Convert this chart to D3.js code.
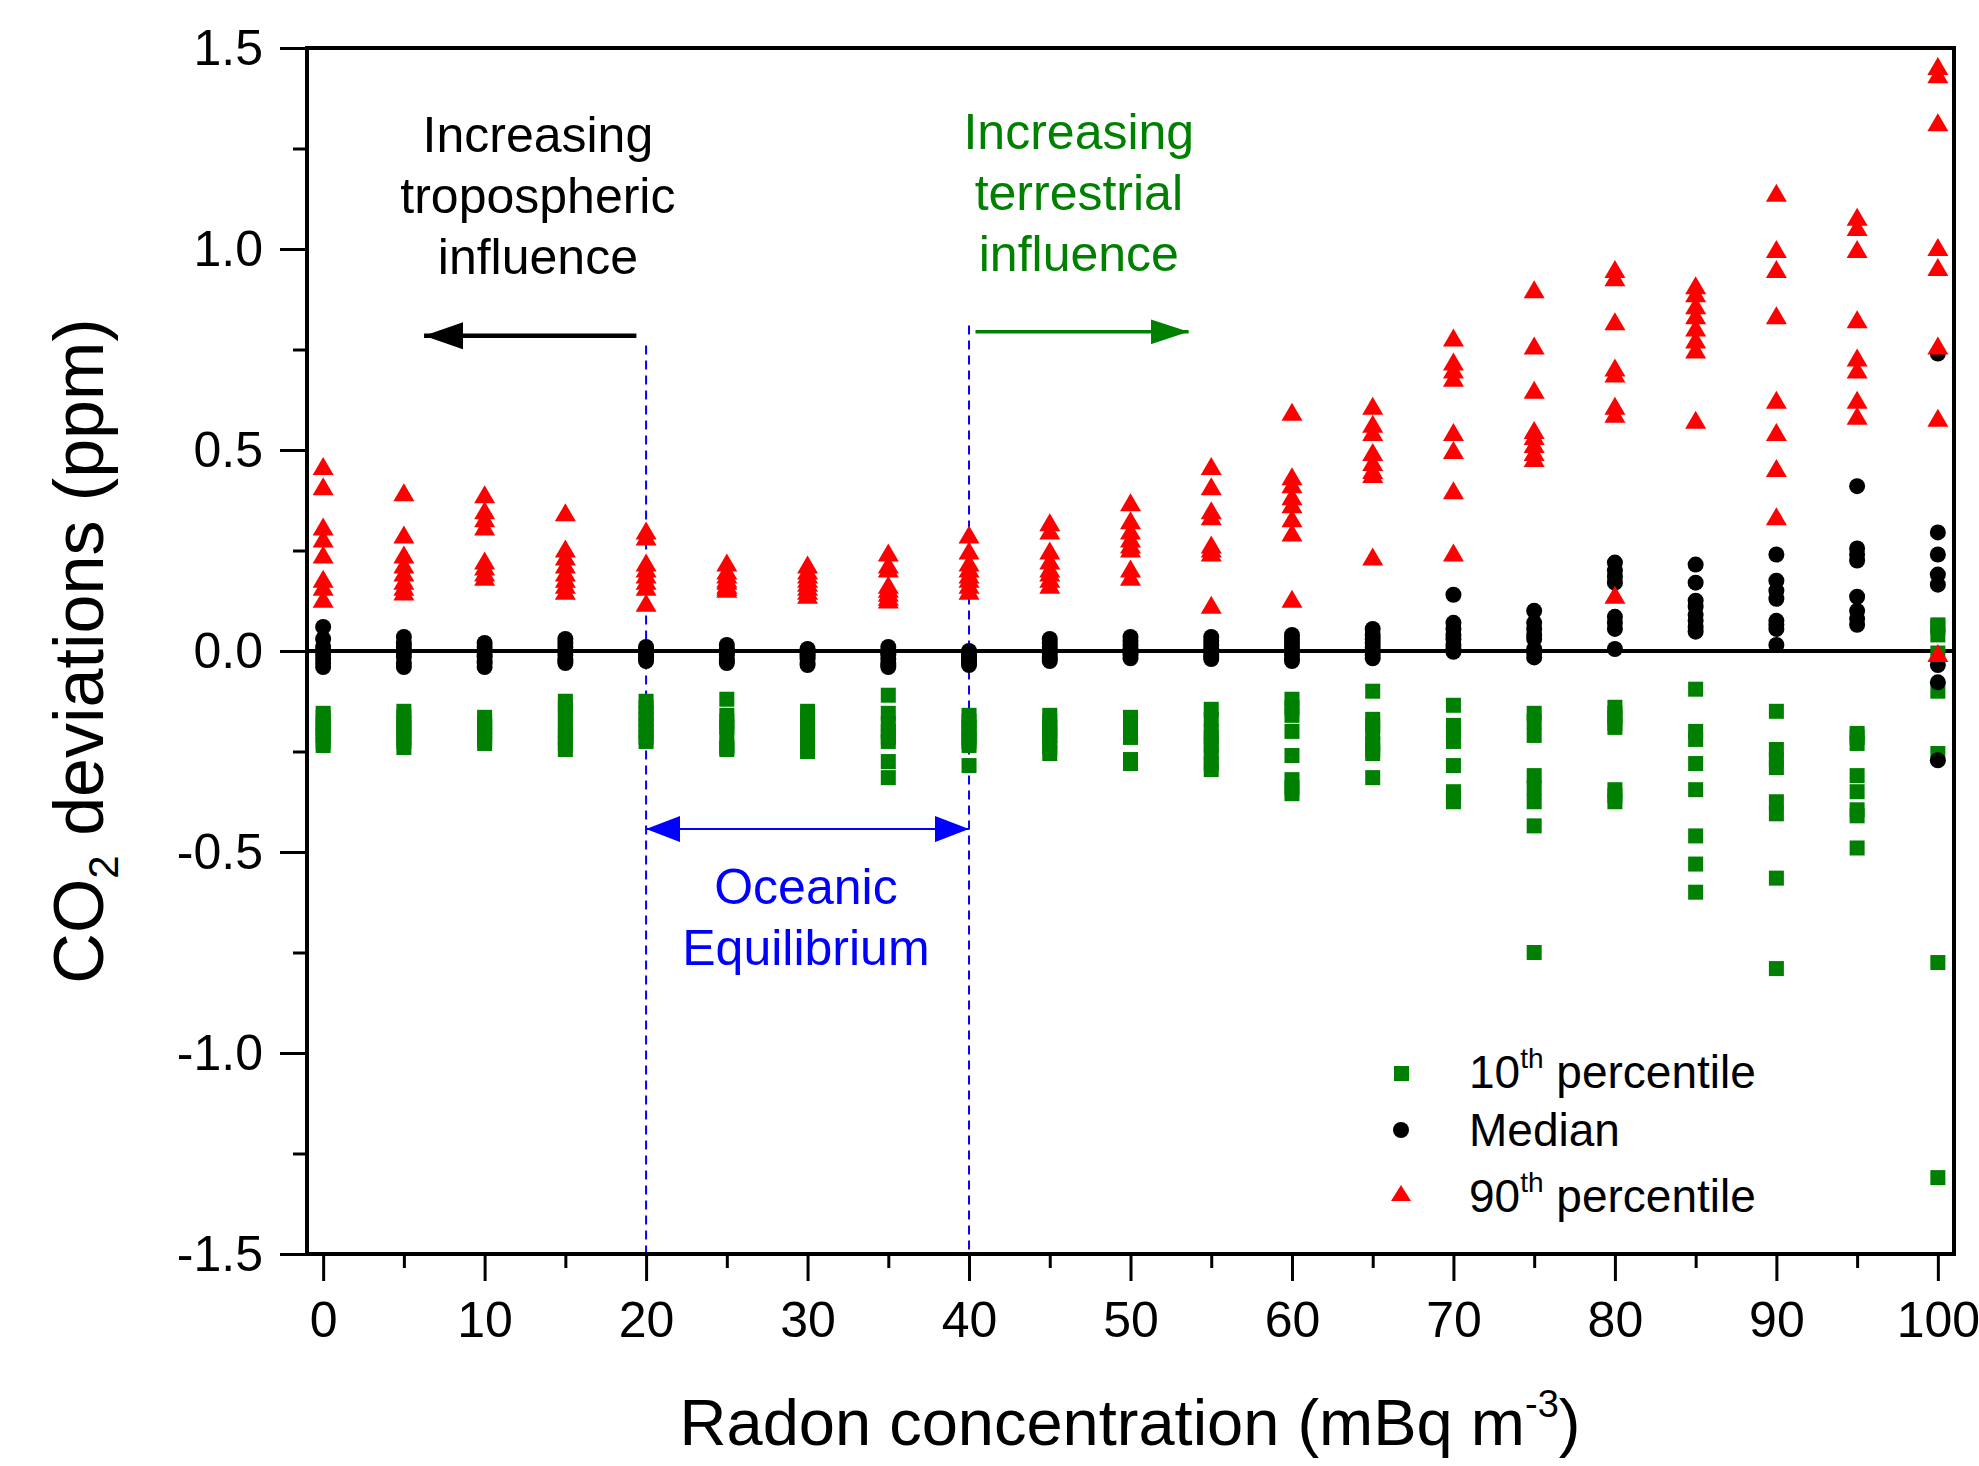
<!DOCTYPE html>
<html>
<head>
<meta charset="utf-8">
<script src="https://cdn.jsdelivr.net/npm/d3@7"></script>
<style>
  body { margin: 0; background: #fff; }
  svg { font-family: "Liberation Sans", Arial, sans-serif; }
</style>
</head>
<body>
<div id="chart"></div>
<script>
// radon bins (mBq m-3)
const radon = [0, 5, 10, 15, 20, 25, 30, 35, 40, 45, 50, 55, 60, 65, 70, 75, 80, 85, 90, 95, 100];

// CO2 deviations (ppm), one row per radon bin
const p10 = [
  [-0.155, -0.165, -0.18, -0.19, -0.2, -0.21, -0.225, -0.235],
  [-0.15, -0.165, -0.18, -0.19, -0.2, -0.215, -0.225, -0.24],
  [-0.165, -0.175, -0.185, -0.19, -0.2, -0.21, -0.22, -0.23],
  [-0.125, -0.14, -0.16, -0.18, -0.2, -0.215, -0.23, -0.245],
  [-0.125, -0.14, -0.155, -0.17, -0.185, -0.2, -0.215, -0.225],
  [-0.12, -0.16, -0.175, -0.19, -0.2, -0.235, -0.24, -0.245],
  [-0.15, -0.165, -0.18, -0.195, -0.21, -0.225, -0.24, -0.25],
  [-0.11, -0.155, -0.18, -0.2, -0.215, -0.225, -0.275, -0.315],
  [-0.16, -0.175, -0.19, -0.2, -0.215, -0.225, -0.235, -0.285],
  [-0.16, -0.175, -0.19, -0.2, -0.21, -0.225, -0.24, -0.255],
  [-0.165, -0.175, -0.19, -0.2, -0.205, -0.215, -0.27, -0.28],
  [-0.145, -0.17, -0.2, -0.215, -0.235, -0.255, -0.28, -0.295],
  [-0.12, -0.14, -0.16, -0.2, -0.26, -0.32, -0.34, -0.355],
  [-0.1, -0.17, -0.185, -0.205, -0.23, -0.245, -0.255, -0.315],
  [-0.135, -0.185, -0.2, -0.225, -0.285, -0.35, -0.365, -0.375],
  [-0.155, -0.175, -0.21, -0.31, -0.34, -0.375, -0.435, -0.75],
  [-0.14, -0.155, -0.165, -0.18, -0.19, -0.345, -0.36, -0.375],
  [-0.095, -0.2, -0.22, -0.28, -0.345, -0.46, -0.53, -0.6],
  [-0.15, -0.245, -0.27, -0.29, -0.375, -0.405, -0.565, -0.79],
  [-0.205, -0.215, -0.23, -0.31, -0.35, -0.395, -0.41, -0.49],
  [0.065, 0.06, 0.04, -0.005, -0.1, -0.255, -0.775, -1.31]
];

const median = [
  [0.06, 0.03, 0.01, 0.0, -0.01, -0.02, -0.03, -0.04],
  [0.035, 0.02, 0.01, 0.0, -0.005, -0.015, -0.03, -0.04],
  [0.02, 0.01, 0.0, -0.01, -0.015, -0.025, -0.03, -0.04],
  [0.03, 0.02, 0.01, 0.0, -0.01, -0.02, -0.025, -0.03],
  [0.01, 0.005, 0.0, -0.005, -0.01, -0.015, -0.02, -0.025],
  [0.015, 0.005, 0.0, -0.005, -0.01, -0.02, -0.025, -0.03],
  [0.005, 0.0, -0.005, -0.01, -0.015, -0.02, -0.03, -0.035],
  [0.01, 0.0, -0.005, -0.01, -0.02, -0.03, -0.035, -0.04],
  [0.0, -0.005, -0.01, -0.015, -0.02, -0.025, -0.03, -0.035],
  [0.03, 0.02, 0.01, 0.0, -0.005, -0.015, -0.02, -0.025],
  [0.035, 0.025, 0.015, 0.005, 0.0, -0.005, -0.01, -0.018],
  [0.035, 0.025, 0.015, 0.005, 0.0, -0.01, -0.015, -0.02],
  [0.04, 0.03, 0.02, 0.01, 0.0, -0.01, -0.02, -0.025],
  [0.055, 0.04, 0.03, 0.02, 0.01, 0.0, -0.01, -0.018],
  [0.14, 0.07, 0.055, 0.04, 0.03, 0.015, 0.005, -0.002],
  [0.1, 0.07, 0.055, 0.04, 0.03, 0.005, -0.005, -0.016],
  [0.22, 0.2, 0.185, 0.17, 0.085, 0.07, 0.055, 0.005],
  [0.215, 0.17, 0.125, 0.11, 0.09, 0.075, 0.06, 0.048],
  [0.24, 0.175, 0.15, 0.13, 0.075, 0.065, 0.055, 0.015],
  [0.41, 0.255, 0.24, 0.225, 0.135, 0.1, 0.08, 0.065],
  [0.74, 0.295, 0.24, 0.19, 0.165, -0.035, -0.078, -0.272]
];

const p90 = [
  [0.46, 0.41, 0.31, 0.28, 0.24, 0.18, 0.16, 0.13],
  [0.395, 0.29, 0.24, 0.215, 0.195, 0.175, 0.16, 0.148],
  [0.39, 0.35, 0.33, 0.31, 0.225, 0.21, 0.195, 0.185],
  [0.345, 0.255, 0.235, 0.215, 0.195, 0.18, 0.165, 0.15],
  [0.3, 0.285, 0.22, 0.205, 0.19, 0.175, 0.16, 0.12],
  [0.22, 0.2, 0.19, 0.18, 0.175, 0.165, 0.16, 0.155],
  [0.215, 0.2, 0.19, 0.18, 0.17, 0.16, 0.15, 0.14],
  [0.245, 0.215, 0.205, 0.165, 0.155, 0.145, 0.135, 0.128],
  [0.29, 0.25, 0.22, 0.205, 0.19, 0.18, 0.165, 0.15],
  [0.32, 0.3, 0.25, 0.225, 0.205, 0.195, 0.18, 0.165],
  [0.37, 0.325, 0.3, 0.28, 0.265, 0.255, 0.205, 0.185],
  [0.46, 0.41, 0.35, 0.335, 0.265, 0.255, 0.245, 0.115],
  [0.595, 0.435, 0.415, 0.385, 0.365, 0.33, 0.295, 0.13],
  [0.61, 0.565, 0.545, 0.495, 0.47, 0.45, 0.44, 0.235],
  [0.78, 0.72, 0.7, 0.68, 0.545, 0.5, 0.4, 0.245],
  [0.9, 0.76, 0.65, 0.55, 0.535, 0.515, 0.495, 0.48],
  [0.95, 0.93, 0.82, 0.705, 0.69, 0.61, 0.59, 0.14],
  [0.91, 0.89, 0.86, 0.835, 0.805, 0.775, 0.75, 0.575],
  [1.14, 1.0, 0.95, 0.835, 0.625, 0.545, 0.455, 0.335],
  [1.08, 1.055, 1.0, 0.825, 0.73, 0.7, 0.625, 0.585],
  [1.455, 1.435, 1.315, 1.005, 0.955, 0.76, 0.58, -0.005]
];

const yTicks = [-1.5, -1.0, -0.5, 0.0, 0.5, 1.0, 1.5];
const yMinor = [-1.25, -0.75, -0.25, 0.25, 0.75, 1.25];
const xTicks = [0, 10, 20, 30, 40, 50, 60, 70, 80, 90, 100];
const xMinor = [5, 15, 25, 35, 45, 55, 65, 75, 85, 95];

const width = 1979;
const height = 1466;
const plot = { left: 307, right: 1954, top: 48, bottom: 1254 };

const svg = d3
  .select('#chart')
  .append('svg')
  .attr('width', width)
  .attr('height', height);

const xScale = d3.scaleLinear().domain([-1, 101]).range([plot.left, plot.right]);
const yScale = d3.scaleLinear().domain([-1.5, 1.5]).range([plot.bottom, plot.top]);

// axes
const yAxis = d3.axisLeft(yScale).tickValues(yTicks).tickSize(27).tickPadding(17)
  .tickFormat(d => d.toFixed(1));
const yAxisMinor = d3.axisLeft(yScale).tickValues(yMinor).tickSize(14).tickFormat('');
const xAxis = d3.axisBottom(xScale).tickValues(xTicks).tickSize(27).tickPadding(20)
  .tickFormat(d => d);
const xAxisMinor = d3.axisBottom(xScale).tickValues(xMinor).tickSize(14).tickFormat('');

function styleAxis(g) {
  g.select('.domain').remove();
  g.selectAll('line').attr('stroke', '#000').attr('stroke-width', 3);
  g.selectAll('text').attr('font-size', 50).attr('fill', '#000')
    .attr('font-family', '"Liberation Sans", Arial, sans-serif');
}

svg.append('g').attr('transform', `translate(${plot.left},0)`).call(yAxis).call(styleAxis);
svg.append('g').attr('transform', `translate(${plot.left},0)`).call(yAxisMinor).call(styleAxis);
svg.append('g').attr('transform', `translate(0,${plot.bottom})`).call(xAxis).call(styleAxis);
svg.append('g').attr('transform', `translate(0,${plot.bottom})`).call(xAxisMinor).call(styleAxis);

// zero line
svg.append('line')
  .attr('x1', plot.left).attr('x2', plot.right)
  .attr('y1', yScale(0)).attr('y2', yScale(0))
  .attr('stroke', '#000').attr('stroke-width', 4);

// dashed separators
[[20, 0.76], [40, 0.81]].forEach(([xv, top]) => {
  svg.append('line')
    .attr('x1', xScale(xv)).attr('x2', xScale(xv))
    .attr('y1', yScale(top)).attr('y2', plot.bottom)
    .attr('stroke', '#0000ff').attr('stroke-width', 2)
    .attr('stroke-dasharray', '9,6');
});

// arrows
const defs = svg.append('defs');
function marker(id, color, len, wid) {
  defs.append('marker')
    .attr('id', id)
    .attr('viewBox', `0 0 ${len} ${wid}`)
    .attr('refX', len).attr('refY', wid / 2)
    .attr('markerWidth', len).attr('markerHeight', wid)
    .attr('markerUnits', 'userSpaceOnUse')
    .attr('orient', 'auto-start-reverse')
    .append('path')
    .attr('d', `M0,0 L${len},${wid / 2} L0,${wid} z`)
    .attr('fill', color);
}
marker('arrBlack', '#000', 39, 27);
marker('arrGreen', '#008000', 38, 25);
marker('arrBlue', '#0000ff', 34, 26);

svg.append('line')
  .attr('x1', xScale(19.4)).attr('x2', xScale(6.25))
  .attr('y1', yScale(0.784)).attr('y2', yScale(0.784))
  .attr('stroke', '#000').attr('stroke-width', 4.5)
  .attr('marker-end', 'url(#arrBlack)');
svg.append('line')
  .attr('x1', xScale(40.4)).attr('x2', xScale(53.6))
  .attr('y1', yScale(0.794)).attr('y2', yScale(0.794))
  .attr('stroke', '#008000').attr('stroke-width', 3.5)
  .attr('marker-end', 'url(#arrGreen)');
svg.append('line')
  .attr('x1', xScale(20)).attr('x2', xScale(40))
  .attr('y1', yScale(-0.443)).attr('y2', yScale(-0.443))
  .attr('stroke', '#0000ff').attr('stroke-width', 2)
  .attr('marker-start', 'url(#arrBlue)')
  .attr('marker-end', 'url(#arrBlue)');

// annotation text
function block(lines, xv, yv, color) {
  const t = svg.append('text')
    .attr('text-anchor', 'middle')
    .attr('font-size', 50)
    .attr('fill', color);
  lines.forEach((s, i) => {
    t.append('tspan').attr('x', xScale(xv)).attr('y', yScale(yv) + i * 61).text(s);
  });
}
block(['Increasing', 'tropospheric', 'influence'], 13.3, 1.241, '#000');
block(['Increasing', 'terrestrial', 'influence'], 46.8, 1.25, '#008000');
block(['Oceanic', 'Equilibrium'], 29.9, -0.63, '#0000ff');

// points
function flat(rows) {
  const out = [];
  rows.forEach((row, i) => row.forEach(v => out.push({ x: radon[i], y: v })));
  return out;
}

const squareSize = 15;
svg.append('g').selectAll('rect')
  .data(flat(p10))
  .enter()
  .append('rect')
  .attr('x', d => xScale(d.x) - squareSize / 2)
  .attr('y', d => yScale(d.y) - squareSize / 2)
  .attr('width', squareSize)
  .attr('height', squareSize)
  .attr('fill', '#008000');

svg.append('g').selectAll('circle')
  .data(flat(median))
  .enter()
  .append('circle')
  .attr('cx', d => xScale(d.x))
  .attr('cy', d => yScale(d.y))
  .attr('r', 8)
  .attr('fill', '#000');

const triPath = 'M0,-9 L10.5,9 L-10.5,9 Z';
svg.append('g').selectAll('path')
  .data(flat(p90))
  .enter()
  .append('path')
  .attr('d', triPath)
  .attr('transform', d => `translate(${xScale(d.x)},${yScale(d.y)})`)
  .attr('fill', '#ff0000');

// frame
svg.append('rect')
  .attr('x', plot.left).attr('y', plot.top)
  .attr('width', plot.right - plot.left)
  .attr('height', plot.bottom - plot.top)
  .attr('fill', 'none')
  .attr('stroke', '#000')
  .attr('stroke-width', 4);

// legend
const legend = svg.append('g').attr('font-size', 46).attr('fill', '#000');
legend.append('rect').attr('x', 1394).attr('y', 1066).attr('width', 15).attr('height', 15).attr('fill', '#008000');
legend.append('circle').attr('cx', 1401).attr('cy', 1130).attr('r', 8).attr('fill', '#000');
legend.append('path').attr('d', 'M0,-8 L10,8 L-10,8 Z')
  .attr('transform', 'translate(1401,1193)').attr('fill', '#ff0000');

function supLabel(y, base, sup, rest) {
  const t = legend.append('text').attr('x', 1469).attr('y', y);
  t.append('tspan').text(base);
  t.append('tspan').attr('font-size', 28).attr('dy', -20).text(sup);
  t.append('tspan').attr('dy', 20).text(rest);
}
supLabel(1088, '10', 'th', ' percentile');
legend.append('text').attr('x', 1469).attr('y', 1146).text('Median');
supLabel(1212, '90', 'th', ' percentile');

// axis titles
const xTitle = svg.append('text')
  .attr('x', 1130).attr('y', 1445)
  .attr('text-anchor', 'middle')
  .attr('font-size', 65);
xTitle.append('tspan').text('Radon concentration (mBq m');
xTitle.append('tspan').attr('font-size', 38).attr('dy', -28).text('-3');
xTitle.append('tspan').attr('dy', 28).text(')');

const yTitle = svg.append('text')
  .attr('transform', 'translate(103,651) rotate(-90)')
  .attr('text-anchor', 'middle')
  .attr('font-size', 70);
yTitle.append('tspan').text('CO');
yTitle.append('tspan').attr('font-size', 42).attr('dy', 15).text('2');
yTitle.append('tspan').attr('dy', -15).text(' deviations (ppm)');
</script>
</body>
</html>
